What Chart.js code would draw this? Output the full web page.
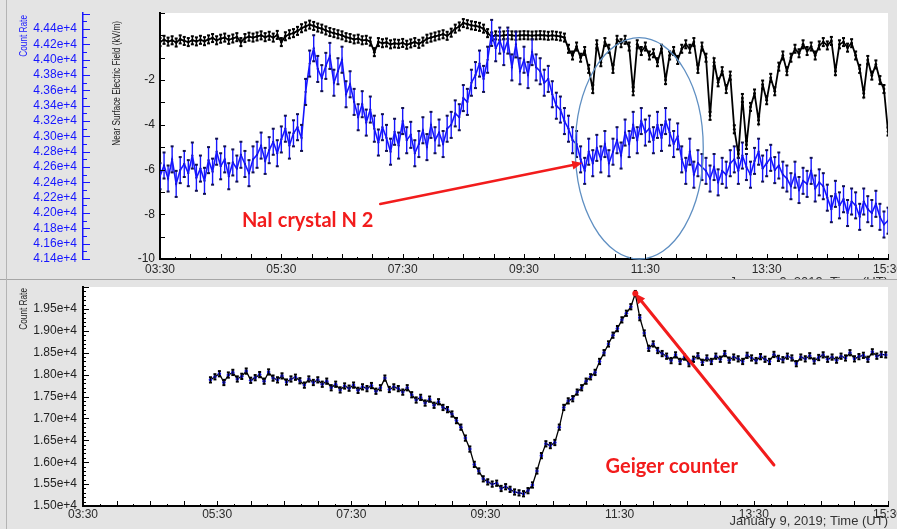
<!DOCTYPE html>
<html>
<head>
<meta charset="utf-8">
<script src="https://cdn.jsdelivr.net/npm/chart.js@4.4.1/dist/chart.umd.min.js"></script>
<style>
  html, body { margin: 0; padding: 0; background: #e4e4e4; }
  #wrap { position: relative; width: 897px; height: 529px; overflow: hidden; background: #e4e4e4; }
  #topChart { position: absolute; left: 0; top: 0; }
  #bottomChart { position: absolute; left: 0; top: 280px; background: #e4e4e4; }
  #sep { position: absolute; left: 0; top: 279px; width: 897px; height: 1px; background: #a6a6a6; z-index: 3; }
  #edge { position: absolute; left: 6px; top: 0; width: 1px; height: 529px; background: #b4b4b4; z-index: 3; }
</style>
</head>
<body>
<div id="wrap">
  <canvas id="topChart" width="897" height="290"></canvas>
  <canvas id="bottomChart" width="897" height="249"></canvas>
  <div id="sep"></div>
  <div id="edge"></div>
</div>
<script>
// ---- time axis ----
const TIME_TICKS = ['03:30', '05:30', '07:30', '09:30', '11:30', '13:30', '15:30'];
const STEP_MIN = 4;            // sampling interval of every series, minutes

// ---- NaI crystal N 2 count rate (counts), from 03:30 ----
const NAI_START = '03:30';
const NAI_COUNTS = [
  42480, 42620, 42450, 42700, 42380, 42560, 42640, 42520, 42750, 42460, 42580, 42420,
  42690, 42540, 42800, 42610, 42700, 42480, 42660, 42580, 42760, 42640, 42520, 42700,
  42760, 42880, 42680, 42820, 42930, 42780,
  42960, 43100, 42880, 43040, 43120, 42980,
  43580,
  43950, 44150, 43880, 43760, 43920, 44050,
  43700, 43850, 44000, 43550, 43680, 43450,
  43250, 43420, 43180, 43350, 43100,
  42920, 43120, 42980, 42800, 43060, 42880, 43200, 42950, 43020, 42780, 42900, 43080, 42860, 43150, 42950, 43050, 42900, 43100,
  43150, 43300, 43250, 43500, 43450, 43700,
  43800, 43950, 43750, 44000,
  44350, 44150, 44250, 44100,
  44250, 43900, 44200, 43850, 44000, 43800, 44100, 43900,
  43850, 43700, 43750,
  43550, 43400, 43350, 43200,
  43100, 42950, 42900,
  42700, 42550, 42800, 42650,
  42850, 42700, 42900, 42650, 42800, 42950, 42750,
  43050, 42900, 43150, 42950, 43200, 43050, 43100, 42950,
  43150, 42980, 43200, 43050, 42900, 43000,
  42700, 42550, 42800, 42500, 42650, 42600, 42550,
  42450, 42600, 42400, 42550, 42500, 42650,
  42700, 42550, 42750, 42600, 42500, 42680, 42800, 42580, 42650, 42720, 42560, 42620, 42500,
  42450, 42350, 42500, 42300, 42420, 42380, 42550, 42320, 42400, 42350,
  42200, 42050, 42250, 42100, 42180, 42000, 42150,
  42100, 41950, 42150, 42050, 42000, 42120, 41950,
  41850, 41900
];
const NAI_ERR = 170;

// ---- near surface electric field (kV/m), from 03:30 ----
const FIELD_START = '03:30';
const FIELD_KVM = [
  -0.30, -0.20, -0.28, -0.22, -0.32, -0.18, -0.25, -0.30, -0.22, -0.27, -0.20, -0.26,
  -0.18, -0.12, -0.22, -0.15, -0.10, -0.20, -0.14, -0.08, -0.30, -0.12, -0.06, -0.10,
  -0.05, 0.00, -0.08, -0.02, -0.10, 0.02, -0.30, -0.04, 0.05, 0.10,
  0.20, 0.32, 0.40, 0.48,
  0.42, 0.35, 0.30, 0.22, 0.15, 0.10, 0.05, 0.00,
  -0.08, -0.12, -0.18, -0.15, -0.22, -0.20, -0.28, -0.75,
  -0.30, -0.35, -0.32, -0.40, -0.36, -0.38, -0.34, -0.42,
  -0.36, -0.30, -0.38, -0.28,
  -0.15, -0.10, -0.05, 0.00, 0.05, -0.02, 0.12,
  0.30, 0.40, 0.55, 0.50, 0.45, 0.42, 0.38, 0.30,
  0.10, -0.05, 0.00, -0.02,
  0.00, 0.02, 0.00, -0.02, 0.00, 0.01, 0.00, -0.01, 0.00, 0.01, 0.00, -0.02, 0.00, -0.02, -0.05, -0.10,
  -0.60, -0.90, -0.50,
  -1.00, -0.70, -1.50,
  -2.40,
  -0.40, -1.20, -0.30, -0.60, -1.50, -0.20,
  -0.35, -0.20, -0.50, -2.50,
  -0.40, -0.70, -0.50, -0.90,
  -0.80, -1.20, -0.60, -2.00, -0.90, -0.70, -1.10, -0.60,
  -0.40, -0.60, -0.30, -1.50, -0.50, -1.00,
  -3.60,
  -1.20, -2.10, -1.60, -2.40, -1.80,
  -4.20, -5.30,
  -2.80, -4.90, -3.20, -2.60, -3.80,
  -2.20, -2.90, -1.90, -2.50,
  -1.40, -0.90, -1.60, -1.00,
  -0.60, -0.80, -0.40, -0.70, -0.50, -0.90, -0.45,
  -0.30, -0.45, -0.25, -1.60, -0.40, -0.30, -0.55, -0.35,
  -0.90, -1.50, -2.60, -1.10, -1.80, -1.30,
  -2.00, -2.40, -4.30
];
const FIELD_ERR = 0.18;

// ---- Geiger counter count rate (counts), from 05:24 ----
const GEIGER_START = '05:24';
const GEIGER_COUNTS = [
  17880, 17950, 18020, 17820, 17990, 18050, 17900, 17960, 18080, 17870,
  17930, 18000, 17850, 18060, 17920, 17880, 17970, 17830, 17900, 17940,
  17860, 17760, 17900, 17820, 17880, 17780, 17850,
  17700, 17780, 17650, 17740, 17690, 17760, 17640, 17720, 17680, 17750, 17620, 17700, 17920, 17660, 17720,
  17680, 17600, 17700, 17540,
  17420, 17480, 17350, 17440, 17300, 17380,
  17250, 17200, 17100, 16950, 16800,
  16550, 16300, 15950,
  15800, 15620, 15550, 15500, 15520,
  15400, 15440, 15380, 15320, 15300, 15280,
  15350, 15480,
  15800, 16150, 16420,
  16380, 16450,
  16800, 17250,
  17400, 17450, 17600, 17700, 17850, 17950,
  18050, 18300, 18500, 18700, 18900,
  19050, 19250, 19400, 19550,
  19850,
  19300, 18950,
  18600, 18700, 18550, 18480, 18420,
  18320, 18450, 18300, 18400, 18250, 18350, 18430, 18280, 18380, 18300,
  18420, 18350, 18480, 18330, 18400, 18360, 18300, 18440, 18380, 18320,
  18410, 18350, 18300, 18460, 18370, 18340, 18420, 18380, 18250, 18400,
  18360, 18430, 18310, 18390, 18450, 18350, 18400, 18330, 18420, 18380,
  18500, 18360, 18410, 18440, 18350, 18520, 18420, 18460, 18450
];
const GEIGER_ERR = 60;

// ---- axis tick labels ----
const NAI_TICKS = ['4.14e+4', '4.16e+4', '4.18e+4', '4.20e+4', '4.22e+4', '4.24e+4', '4.26e+4', '4.28e+4',
  '4.30e+4', '4.32e+4', '4.34e+4', '4.36e+4', '4.38e+4', '4.40e+4', '4.42e+4', '4.44e+4'];
const FIELD_TICKS = ['-10', '-8', '-6', '-4', '-2'];
const GEIGER_TICKS = ['1.50e+4', '1.55e+4', '1.60e+4', '1.65e+4', '1.70e+4', '1.75e+4', '1.80e+4', '1.85e+4', '1.90e+4', '1.95e+4'];

const TIME_TITLE = 'January 9, 2019; Time (UT)';

// ---- helpers ----
const FONT = "'Liberation Sans', Arial, sans-serif";
const NOTE_FONT = "bold 20px Lato, 'Open Sans', sans-serif";
const BLUE = '#1616ff';
const RED = '#f21c1c';

const toHours = s => { const [h, m] = s.split(':').map(Number); return h + m / 60; };
const fromHours = h => { const t = Math.round(h * 60); return String(Math.floor(t / 60)).padStart(2, '0') + ':' + String(t % 60).padStart(2, '0'); };
const sciValue = s => parseFloat(s.replace('e+4', '')) * 1e4;
const series = (start, values) => { const t0 = toHours(start); return values.map((v, i) => ({ x: t0 + i * STEP_MIN / 60, y: v })); };
const fixedTicks = values => scale => { scale.ticks = values.map(v => ({ value: v })); };
const noEdgePad = (w, h) => scale => {
  if (w !== undefined) scale.width = w;
  if (h !== undefined) scale.height = h;
  scale.paddingLeft = scale.paddingRight = scale.paddingTop = scale.paddingBottom = 0;
};

const T_MIN = toHours(TIME_TICKS[0]);
const T_MAX = toHours(TIME_TICKS[TIME_TICKS.length - 1]);

// white plotting area
const plotArea = {
  id: 'plotArea',
  beforeDraw(chart) {
    const { ctx, chartArea: a } = chart;
    ctx.save();
    ctx.fillStyle = '#ffffff';
    ctx.fillRect(a.left, a.top, a.right - a.left, a.bottom - a.top);
    ctx.restore();
  }
};

// vertical error bars with small caps, drawn right after their own dataset
const errorBars = {
  id: 'errorBars',
  afterDatasetDraw(chart, args) {
    const ds = chart.data.datasets[args.index];
    if (!ds.errorBar) return;
    const { ctx, chartArea: a } = chart;
    const ys = chart.scales[args.meta.yAxisID];
    const eb = ds.errorBar;
    ctx.save();
    ctx.beginPath();
    ctx.rect(a.left, a.top, a.right - a.left, a.bottom - a.top);
    ctx.clip();
    args.meta.data.forEach((pt, i) => {
      const v = ds.data[i].y;
      const y1 = ys.getPixelForValue(v + eb.size);
      const y2 = ys.getPixelForValue(v - eb.size);
      ctx.strokeStyle = eb.color;
      ctx.lineWidth = eb.width;
      ctx.beginPath();
      ctx.moveTo(pt.x, y1);
      ctx.lineTo(pt.x, y2);
      ctx.stroke();
      ctx.fillStyle = eb.capColor;
      ctx.fillRect(pt.x - 1.5, y1 - 1, 3, 2);
      ctx.fillRect(pt.x - 1.5, y2 - 1, 3, 2);
    });
    ctx.restore();
  }
};

// inward tick marks along the axes
function innerTicks(specs) {
  return {
    id: 'innerTicks',
    afterDraw(chart) {
      const ctx = chart.ctx;
      specs.forEach(s => {
        const sc = chart.scales[s.id];
        const n = Math.floor((sc.max - s.from) / s.step + 1e-6);
        ctx.save();
        ctx.strokeStyle = s.color;
        ctx.lineWidth = 1;
        for (let k = 0; k <= n; k++) {
          const p = Math.round(sc.getPixelForValue(s.from + k * s.step)) + 0.5;
          ctx.beginPath();
          if (sc.isHorizontal()) { ctx.moveTo(p, sc.top); ctx.lineTo(p, sc.top - s.len); }
          else { ctx.moveTo(sc.right, p); ctx.lineTo(sc.right + s.len, p); }
          ctx.stroke();
        }
        ctx.restore();
      });
    }
  };
}

// rotated, condensed axis titles placed next to their scale
function axisTitles(specs) {
  return {
    id: 'axisTitles',
    afterDraw(chart) {
      const ctx = chart.ctx;
      specs.forEach(s => {
        const sc = chart.scales[s.id];
        ctx.save();
        ctx.translate(sc.left + s.dx, chart.chartArea.top + s.dy);
        ctx.rotate(-Math.PI / 2);
        ctx.scale(0.75, 1);
        ctx.font = '11px ' + FONT;
        ctx.fillStyle = s.color;
        ctx.textAlign = 'right';
        ctx.textBaseline = 'middle';
        ctx.fillText(s.text, 0, 0);
        ctx.restore();
      });
    }
  };
}

function arrow(ctx, x1, y1, x2, y2, color, width, head) {
  const ang = Math.atan2(y2 - y1, x2 - x1);
  const c = Math.cos(ang), s = Math.sin(ang);
  ctx.strokeStyle = color;
  ctx.fillStyle = color;
  ctx.lineWidth = width;
  ctx.lineCap = 'round';
  ctx.beginPath();
  ctx.moveTo(x1, y1);
  ctx.lineTo(x2 - c * head * 0.7, y2 - s * head * 0.7);
  ctx.stroke();
  ctx.beginPath();
  ctx.moveTo(x2, y2);
  ctx.lineTo(x2 - head * c + head * 0.45 * s, y2 - head * s - head * 0.45 * c);
  ctx.lineTo(x2 - head * c - head * 0.45 * s, y2 - head * s + head * 0.45 * c);
  ctx.closePath();
  ctx.fill();
}

// ---- annotations (in data coordinates) ----
const NAI_NOTE = { text: 'NaI crystal N 2', at: [4.85, -8.57], from: [7.13, -7.54], to: [10.46, -5.71] };
const QUIET_ZONE = { center: [11.4, -5.05], radius: [1.055, 4.95] };
const GEIGER_NOTE = { text: 'Geiger counter', at: [11.29, 15754], from: [13.8, 15936] };

const topNotes = {
  id: 'topNotes',
  afterDraw(chart) {
    const { ctx, scales } = chart;
    const X = v => scales.x.getPixelForValue(v);
    const Y = v => scales.yField.getPixelForValue(v);
    ctx.save();
    const cx = X(QUIET_ZONE.center[0]), cy = Y(QUIET_ZONE.center[1]);
    const rx = X(QUIET_ZONE.center[0] + QUIET_ZONE.radius[0]) - cx;
    const ry = cy - Y(QUIET_ZONE.center[1] + QUIET_ZONE.radius[1]);
    ctx.strokeStyle = '#5f8fc2';
    ctx.lineWidth = 1.3;
    ctx.beginPath();
    ctx.ellipse(cx, cy, rx, ry, 0, 0, Math.PI * 2);
    ctx.stroke();
    arrow(ctx, X(NAI_NOTE.from[0]), Y(NAI_NOTE.from[1]), X(NAI_NOTE.to[0]), Y(NAI_NOTE.to[1]), RED, 2.5, 10);
    ctx.font = NOTE_FONT;
    ctx.fillStyle = RED;
    ctx.textBaseline = 'alphabetic';
    ctx.fillText(NAI_NOTE.text, X(NAI_NOTE.at[0]), Y(NAI_NOTE.at[1]));
    ctx.restore();
  }
};

const bottomNotes = {
  id: 'bottomNotes',
  afterDraw(chart) {
    const { ctx, scales } = chart;
    const X = v => scales.x.getPixelForValue(v);
    const Y = v => scales.y.getPixelForValue(v);
    const pts = chart.data.datasets[0].data;
    const peak = pts.reduce((a, b) => (b.y > a.y ? b : a));
    ctx.save();
    arrow(ctx, X(GEIGER_NOTE.from[0]), Y(GEIGER_NOTE.from[1]), X(peak.x), Y(peak.y), RED, 3, 10);
    ctx.fillStyle = RED;
    ctx.beginPath();
    ctx.arc(X(peak.x), Y(peak.y), 3, 0, Math.PI * 2);
    ctx.fill();
    ctx.font = NOTE_FONT;
    ctx.fillText(GEIGER_NOTE.text, X(GEIGER_NOTE.at[0]), Y(GEIGER_NOTE.at[1]));
    ctx.restore();
  }
};

const timeAxis = (height, labelPad) => ({
  type: 'linear',
  position: 'bottom',
  min: T_MIN,
  max: T_MAX,
  grid: { display: false, drawTicks: false },
  border: { display: true, color: '#000', width: 2 },
  afterBuildTicks: fixedTicks(TIME_TICKS.map(toHours)),
  afterFit: noEdgePad(undefined, height),
  ticks: {
    autoSkip: false, maxRotation: 0, padding: labelPad, color: '#2a2a2a',
    font: { family: FONT, size: 12 },
    callback: v => fromHours(v)
  },
  title: {
    display: true, text: TIME_TITLE, align: 'end', color: '#333',
    font: { family: FONT, size: 13 }, padding: { top: 0, bottom: 0 }
  }
});

Chart.defaults.animation = false;

// ---- top panel: NaI count rate + electric field ----
new Chart(document.getElementById('topChart'), {
  type: 'line',
  data: {
    datasets: [
      {
        label: 'NaI crystal N 2',
        data: series(NAI_START, NAI_COUNTS),
        yAxisID: 'yNai',
        borderColor: BLUE, borderWidth: 1.6,
        pointRadius: 1.1, pointBackgroundColor: '#101070', pointBorderWidth: 0,
        tension: 0,
        errorBar: { size: NAI_ERR, color: BLUE, width: 1.4, capColor: '#101050' }
      },
      {
        label: 'Electric field',
        data: series(FIELD_START, FIELD_KVM),
        yAxisID: 'yField',
        borderColor: '#000', borderWidth: 1.8,
        pointRadius: 1.4, pointBackgroundColor: '#000', pointBorderWidth: 0,
        tension: 0,
        errorBar: { size: FIELD_ERR, color: '#000', width: 1.5, capColor: '#000' }
      }
    ]
  },
  options: {
    responsive: false,
    animation: false,
    layout: { padding: { top: 13, right: 9, left: 0, bottom: 0 } },
    plugins: { legend: { display: false }, tooltip: { enabled: false } },
    scales: {
      x: timeAxis(31, 3),
      yField: {
        type: 'linear', position: 'left', weight: 1,
        min: -10, max: 1.0,
        grid: { display: false, drawTicks: false },
        border: { display: true, color: '#000', width: 2 },
        afterBuildTicks: fixedTicks(FIELD_TICKS.map(Number)),
        afterFit: noEdgePad(77),
        ticks: { autoSkip: false, padding: 5, color: '#222', font: { family: FONT, size: 12 }, callback: v => String(v) }
      },
      yNai: {
        type: 'linear', position: 'left', weight: 2,
        min: 41400, max: 44610,
        grid: { display: false, drawTicks: false },
        border: { display: true, color: BLUE, width: 1.5 },
        afterBuildTicks: fixedTicks(NAI_TICKS.map(sciValue)),
        afterFit: noEdgePad(83),
        ticks: {
          autoSkip: false, padding: 6, color: BLUE, font: { family: FONT, size: 12 },
          callback: v => (v / 1e4).toFixed(2) + 'e+4'
        }
      }
    }
  },
  plugins: [
    plotArea, errorBars, topNotes,
    axisTitles([
      { id: 'yNai', text: 'Count Rate', dx: 24, dy: 2, color: BLUE },
      { id: 'yField', text: 'Near Surface Electric Field (kV/m)', dx: 34, dy: 8, color: '#222' }
    ]),
    innerTicks([
      { id: 'x', from: T_MIN, step: 0.25, len: 2, color: '#000' },
      { id: 'x', from: T_MIN, step: 0.5, len: 5, color: '#000' },
      { id: 'yField', from: -10, step: 1, len: 5, color: '#000' },
      { id: 'yNai', from: 41400, step: 100, len: 4, color: BLUE },
      { id: 'yNai', from: 41400, step: 200, len: 7, color: BLUE }
    ])
  ]
});

// ---- bottom panel: Geiger counter ----
new Chart(document.getElementById('bottomChart'), {
  type: 'line',
  data: {
    datasets: [{
      label: 'Geiger counter',
      data: series(GEIGER_START, GEIGER_COUNTS),
      yAxisID: 'y',
      borderColor: '#000', borderWidth: 1.3,
      pointRadius: 1.8, pointBackgroundColor: '#1a1ad8', pointBorderWidth: 0,
      tension: 0,
      errorBar: { size: GEIGER_ERR, color: '#000', width: 1, capColor: '#000' }
    }]
  },
  options: {
    responsive: false,
    animation: false,
    layout: { padding: { top: 7, right: 9, left: 0, bottom: 0 } },
    plugins: { legend: { display: false }, tooltip: { enabled: false } },
    scales: {
      x: timeAxis(23, 1),
      y: {
        type: 'linear', position: 'left',
        min: 15000, max: 20000,
        grid: { display: false, drawTicks: false },
        border: { display: true, color: '#000', width: 2 },
        afterBuildTicks: fixedTicks(GEIGER_TICKS.map(sciValue)),
        afterFit: noEdgePad(83),
        ticks: {
          autoSkip: false, padding: 6, color: '#222', font: { family: FONT, size: 12 },
          callback: v => (v / 1e4).toFixed(2) + 'e+4'
        }
      }
    }
  },
  plugins: [
    plotArea, errorBars, bottomNotes,
    axisTitles([
      { id: 'y', text: 'Count Rate', dx: 24, dy: 1, color: '#222' }
    ]),
    innerTicks([
      { id: 'x', from: T_MIN, step: 0.25, len: 2, color: '#000' },
      { id: 'x', from: T_MIN, step: 0.5, len: 5, color: '#000' },
      { id: 'y', from: 15000, step: 100, len: 3, color: '#000' },
      { id: 'y', from: 15000, step: 500, len: 6, color: '#000' }
    ])
  ]
});
</script>
</body>
</html>
